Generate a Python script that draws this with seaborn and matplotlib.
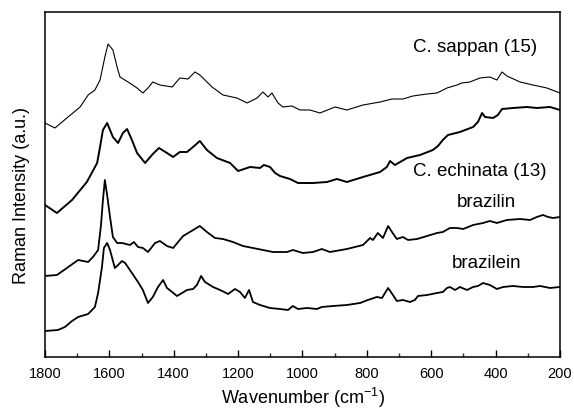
import numpy as np
import matplotlib
matplotlib.use("Agg")
import matplotlib.pyplot as plt
from matplotlib.ticker import MultipleLocator
import seaborn as sns

# spectra (wavenumber in cm-1, intensity in a.u., already offset)
sappan_wn = [1800, 1769, 1732, 1691, 1666, 1645, 1629, 1614, 1604, 1589, 1576, 1567,
             1542, 1514, 1496, 1480, 1465, 1443, 1405, 1381, 1356, 1334, 1319, 1281,
             1247, 1204, 1172, 1141, 1123, 1107, 1095, 1076, 1061, 1033, 1008, 977,
             946, 899, 862, 812, 759, 722, 688, 657, 613, 582, 551, 520, 505, 480,
             449, 418, 396, 380, 365, 324, 284, 241, 200]
sappan_int = [234, 229, 239, 250, 262, 267, 277, 300, 313, 307, 290, 280,
              275, 269, 264, 269, 275, 272, 270, 279, 278, 285, 282, 270,
              262, 259, 254, 259, 265, 260, 264, 254, 250, 251, 247, 247,
              244, 250, 247, 252, 255, 258, 258, 261, 263, 264, 269, 272, 274, 275,
              279, 280, 277, 285, 281, 275, 272, 269, 264]

echinata_wn = [1800, 1763, 1716, 1670, 1638, 1629, 1620, 1607, 1589, 1573, 1558, 1545,
               1530, 1514, 1489, 1465, 1446, 1421, 1402, 1381, 1359, 1340, 1319, 1297,
               1266, 1225, 1200, 1163, 1132, 1120, 1101, 1085, 1070, 1039, 1014, 967,
               924, 893, 862, 812, 759, 738, 728, 713, 675, 635, 595, 579, 564, 548,
               511, 470, 455, 442, 433, 408, 393, 380, 346, 303, 272, 231, 200]
echinata_int = [152, 144, 157, 175, 194, 210, 227, 234, 220, 214, 224, 228,
                217, 204, 194, 203, 209, 204, 200, 205, 205, 210, 216, 207,
                199, 194, 186, 190, 189, 192, 190, 184, 181, 178, 174, 174,
                175, 178, 175, 180, 185, 190, 196, 192, 199, 202, 207, 211, 217, 222,
                225, 230, 235, 244, 240, 239, 242, 248, 249, 250, 249, 250, 247]

brazilin_wn = [1800, 1763, 1732, 1697, 1666, 1651, 1635, 1626, 1620, 1614, 1607, 1598,
               1589, 1576, 1561, 1536, 1524, 1511, 1496, 1480, 1458, 1443, 1421, 1402,
               1371, 1350, 1319, 1297, 1272, 1247, 1216, 1185, 1154, 1123, 1092, 1048,
               1030, 999, 967, 940, 915, 862, 812, 790, 781, 766, 750, 734, 722, 707,
               688, 672, 644, 613, 582, 564, 542, 520, 501, 470, 439, 418, 396, 365,
               324, 293, 272, 253, 237, 222, 200]
brazilin_int = [81, 82, 89, 97, 95, 100, 107, 132, 157, 177, 162, 140,
                120, 114, 114, 112, 115, 110, 109, 105, 114, 116, 111, 109,
                121, 125, 131, 125, 119, 118, 115, 111, 109, 107, 105, 105,
                107, 104, 105, 108, 105, 108, 112, 119, 117, 124, 119, 131, 125, 118,
                120, 117, 118, 121, 124, 125, 129, 129, 128, 132, 134, 136, 134, 137,
                138, 137, 140, 142, 140, 139, 140]

brazilein_wn = [1800, 1760, 1738, 1716, 1697, 1666, 1645, 1635, 1623, 1617, 1607, 1598,
                1583, 1573, 1561, 1551, 1530, 1511, 1496, 1480, 1465, 1449, 1433, 1421,
                1405, 1390, 1374, 1359, 1340, 1328, 1315, 1303, 1278, 1256, 1231, 1210,
                1194, 1179, 1166, 1154, 1132, 1101, 1070, 1045, 1030, 1014, 986, 955,
                940, 905, 862, 821, 797, 769, 753, 734, 719, 707, 688, 666, 651, 641,
                613, 582, 564, 551, 542, 526, 511, 489, 470, 455, 439, 418, 396, 377,
                346, 315, 284, 262, 231, 200]
brazilein_int = [26, 27, 30, 36, 40, 43, 50, 64, 90, 109, 114, 107,
                 89, 92, 96, 94, 84, 75, 67, 54, 60, 70, 77, 69,
                 65, 61, 64, 67, 68, 72, 81, 75, 70, 67, 63, 68,
                 65, 59, 67, 55, 52, 49, 48, 47, 51, 48, 49, 48,
                 50, 51, 52, 54, 57, 60, 59, 69, 62, 56, 57, 55, 57, 61,
                 62, 64, 65, 69, 70, 67, 70, 67, 70, 71, 74, 72, 68, 70,
                 71, 70, 70, 71, 69, 70]

labels = ["C. sappan (15)", "C. echinata (13)", "brazilin", "brazilein"]
label_pos = [(464, 309), (449, 185), (430, 154), (427, 93)]

sns.set_theme(style="ticks")
plt.rcParams["font.family"] = ["Liberation Sans", "DejaVu Sans"]
plt.rcParams["mathtext.default"] = "regular"

fig = plt.figure(figsize=(5.74, 4.12), dpi=100)
ax = fig.add_axes([0.0784, 0.1335, 0.8972, 0.8374])

spectra = [
    (sappan_wn, sappan_int, 0.8),
    (echinata_wn, echinata_int, 1.4),
    (brazilin_wn, brazilin_int, 1.3),
    (brazilein_wn, brazilein_int, 1.3),
]
for wn, inten, lw in spectra:
    sns.lineplot(x=wn, y=inten, ax=ax, color="black", linewidth=lw, estimator=None)
for ln in ax.lines:
    ln.set_solid_joinstyle("round")

for text, (x, y) in zip(labels, label_pos):
    ax.text(x, y, text, fontsize=13.5, ha="center", va="center", color="black")

ax.set_xlim(1800, 200)
ax.set_ylim(0, 345)
ax.xaxis.set_major_locator(MultipleLocator(200))
ax.xaxis.set_minor_locator(MultipleLocator(100))
ax.tick_params(axis="x", which="major", direction="in", length=5, width=1,
               labelsize=10.5, pad=7, colors="black")
ax.tick_params(axis="x", which="minor", direction="in", length=3, width=1)
ax.set_yticks([])
for s in ax.spines.values():
    s.set_linewidth(1.1)
    s.set_color("black")

ax.set_xlabel("Wavenumber (cm$^{-1}$)", fontsize=13, va="center", color="black")
ax.set_ylabel("Raman Intensity (a.u.)", fontsize=13, va="center", color="black")
ax.xaxis.set_label_coords(0.5, -0.119)
ax.yaxis.set_label_coords(-0.045, 0.467)

fig.savefig("out.png", dpi=100)
